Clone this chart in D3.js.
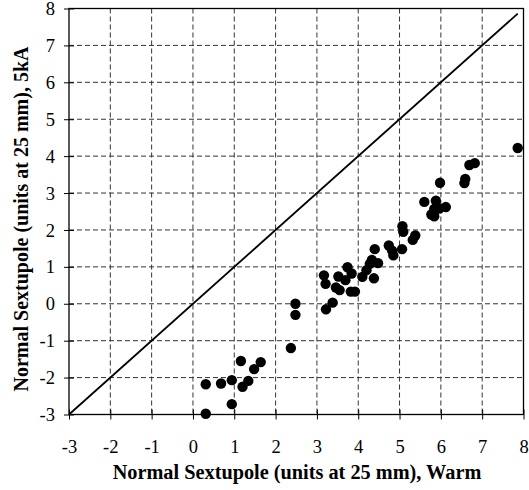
<!DOCTYPE html>
<html><head><meta charset="utf-8">
<script src="https://cdn.jsdelivr.net/npm/d3@7"></script>
<style>body{margin:0;background:#fff}svg{display:block}text{font-family:'Liberation Serif','Times New Roman',serif}</style>
</head><body><svg id="c" width="529" height="490"></svg>
<script>
const warm = [0.31,0.31,0.68,0.94,0.94,1.16,1.20,1.34,1.48,1.64,2.37,2.48,2.48,3.17,3.21,3.22,3.38,3.46,3.52,3.55,3.69,3.74,3.84,3.82,3.92,4.10,4.20,4.28,4.40,4.38,4.33,4.48,4.74,4.82,4.85,5.07,5.09,5.06,5.32,5.38,5.60,5.77,5.84,5.88,5.84,5.98,5.96,6.12,6.57,6.59,6.69,6.82,7.86];
const cold = [-2.18,-2.98,-2.16,-2.07,-2.72,-1.55,-2.25,-2.09,-1.77,-1.58,-1.20,0.00,-0.30,0.77,0.54,-0.15,0.03,0.44,0.74,0.37,0.64,0.99,0.82,0.33,0.33,0.73,0.91,1.08,1.48,0.69,1.19,1.10,1.58,1.44,1.31,2.10,1.95,1.48,1.73,1.85,2.76,2.42,2.57,2.79,2.37,3.28,2.58,2.62,3.27,3.38,3.76,3.81,4.22];
const xTicks = [-3,-2,-1,0,1,2,3,4,5,6,7,8];
const yTicks = [-3,-2,-1,0,1,2,3,4,5,6,7,8];
const diag = [-3, 7.86];

const svg = d3.select('#c');
const L=69, R=523.5, T=8.5, B=414.5;
const x = d3.scaleLinear().domain([-3,8]).range([L,R]);
const y = d3.scaleLinear().domain([-3,8]).range([B,T]);
const font = "'Liberation Serif','Times New Roman',serif";
const fmt = d => String(d);

// grid
svg.append('g').selectAll('line').data(xTicks.filter(d=>d>-3&&d<8)).join('line')
  .attr('x1',d=>x(d)).attr('x2',d=>x(d)).attr('y1',T).attr('y2',B)
  .attr('stroke','#333').attr('stroke-width',1).attr('stroke-dasharray','5,3');
svg.append('g').selectAll('line').data(yTicks.filter(d=>d>-3&&d<8)).join('line')
  .attr('y1',d=>y(d)).attr('y2',d=>y(d)).attr('x1',L).attr('x2',R)
  .attr('stroke','#333').attr('stroke-width',1).attr('stroke-dasharray','5,3');

// frame
svg.append('rect').attr('x',L).attr('y',T).attr('width',R-L).attr('height',B-T)
  .attr('fill','none').attr('stroke','#000').attr('stroke-width',1.3);

// axes
const xa = svg.append('g').attr('transform',`translate(0,${B})`)
  .call(d3.axisBottom(x).tickValues(xTicks).tickSize(5).tickFormat(fmt))
  .attr('font-family',font);
xa.select('.domain').remove();
xa.selectAll('.tick line').attr('y1',-5).attr('stroke','#000');
xa.selectAll('text').style('font-family',font).attr('font-size',18.5).attr('fill','#000')
  .attr('dy',null).attr('y',38);

const ya = svg.append('g').attr('transform',`translate(${L},0)`)
  .call(d3.axisLeft(y).tickValues(yTicks).tickSize(5).tickFormat(fmt))
  .attr('font-family',font);
ya.select('.domain').remove();
ya.selectAll('.tick line').attr('x1',-5).attr('x2',5).attr('stroke','#000');
ya.selectAll('text').style('font-family',font).attr('font-size',18.5).attr('fill','#000')
  .attr('x',-14).attr('dy','0.33em');

// diagonal
svg.append('line').attr('x1',x(diag[0])).attr('y1',y(diag[0])).attr('x2',x(diag[1])).attr('y2',y(diag[1]))
  .attr('stroke','#000').attr('stroke-width',1.8);

// points
svg.append('g').selectAll('circle').data(warm.map((w,i)=>[w,cold[i]])).join('circle')
  .attr('cx',d=>x(d[0])).attr('cy',d=>y(d[1])).attr('r',5.2).attr('fill','#000');

// titles
svg.append('text').attr('x',297).attr('y',479).attr('text-anchor','middle')
  .attr('font-size',20.3).attr('font-weight','bold')
  .text('Normal Sextupole (units at 25 mm), Warm');
svg.append('text').attr('transform','translate(28,219) rotate(-90)').attr('text-anchor','middle')
  .attr('font-size',20).attr('font-weight','bold')
  .text('Normal Sextupole (units at 25 mm), 5kA');
</script></body></html>
